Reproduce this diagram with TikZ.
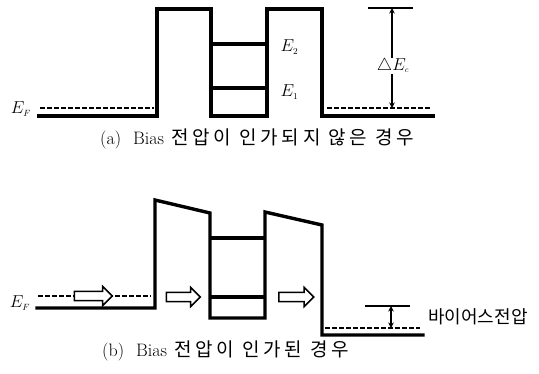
\documentclass[tikz,border=0pt]{standalone}
\usepackage{fontspec}
\newfontfamily\kr[LetterSpace=20]{Noto Sans CJK KR}
\newfontfamily\krn{Noto Sans CJK KR}
\usetikzlibrary{shapes.arrows,arrows.meta}
\tikzset{
  band/.style={line width=3.4pt,line join=miter,line cap=rect},
  level/.style={line width=3.2pt},
  fermi/.style={line width=1.5pt,dash pattern=on 4.5pt off 2.5pt},
  ticklinestyle/.style={line width=1.3pt},
  dim/.style={line width=1.6pt,{Stealth[length=5.5pt,width=5.5pt]}-{Stealth[length=5.5pt,width=5.5pt]}},
  hollow/.style={single arrow,draw,line width=1.5pt,fill=white,minimum height=36pt,inner xsep=0pt,inner ysep=3.8pt,single arrow head extend=5pt},
  lbl/.style={inner sep=0.5pt,font=\fontsize{18}{20}\selectfont},
  captext/.style={inner sep=0pt,anchor=west,font=\fontsize{18}{20}\selectfont},
  kcap/.style={font=\fontsize{19}{21}\kr}
}
\begin{document}
\begin{tikzpicture}[x=1pt,y=-1pt]
\useasboundingbox (0,0) rectangle (539,373);
% ---------------- (a) ----------------
\coordinate (aL0) at (39,116);
\coordinate (aL1) at (157,116);
\coordinate (aL2) at (157,9);
\coordinate (aL3) at (211,9);
\coordinate (aW0) at (211,116);
\coordinate (aW1) at (267,116);
\coordinate (aR0) at (267,9);
\coordinate (aR1) at (322,9);
\coordinate (aR2) at (322,116);
\coordinate (aR3) at (433,116);
\draw[band] (aL0) -- (aL1) -- (aL2) -- (aL3) -- (aW0) -- (aW1) -- (aR0) -- (aR1) -- (aR2) -- (aR3);
\draw[level] (211,44) -- (267,44);
\draw[level] (211,88) -- (267,88);
\draw[fermi] (40,108) -- (154,108);
\draw[fermi] (327,108) -- (432,108);
\coordinate (aT0) at (368,8);
\coordinate (aT1) at (413,8);
\draw[ticklinestyle] (aT0) -- (aT1);
\coordinate (aDtop) at (392,8);
\coordinate (aDbot) at (392,108);
\draw[dim] (aDtop) -- (aDbot);
\node[lbl,fill=white,font=\fontsize{17}{19}\selectfont] (dEc) at (393,66) {$\triangle E_{\scriptscriptstyle c}$};
\node[lbl] (aEF) at (21,109) {$E_{\scriptscriptstyle F}$};
\node[lbl,anchor=west] (aE2) at (280,47) {$E_{\scriptscriptstyle 2}$};
\node[lbl,anchor=west] (aE1) at (280,92) {$E_{\scriptscriptstyle 1}$};
\node[captext] (capa) at (100,139) {(a)\hspace{12pt}Bias\hspace{7pt}{\fontsize{19}{21}\kr 전압이 인가되지 않은 경우}};
% ---------------- (b) ----------------
\coordinate (bL0) at (37,308);
\coordinate (bL1) at (155,308);
\coordinate (bL2) at (155,200);
\coordinate (bL3) at (210,213);
\coordinate (bW0) at (210,318);
\coordinate (bW1) at (265,318);
\coordinate (bR0) at (265,212);
\coordinate (bR1) at (322,225);
\coordinate (bR2) at (322,335);
\coordinate (bR3) at (423,335);
\draw[band] (bL0) -- (bL1) -- (bL2) -- (bL3) -- (bW0) -- (bW1) -- (bR0) -- (bR1) -- (bR2) -- (bR3);
\draw[level] (210,238) -- (265,238);
\draw[level] (210,297) -- (265,297);
\draw[fermi] (38,296) -- (151,296);
\draw[fermi] (325,328) -- (420,328);
\node[hollow,minimum height=38pt] (ar1) at (91,296) {};
\node[hollow,minimum height=34pt] (ar2) at (181,297) {};
\node[hollow,minimum height=35pt] (ar3) at (294,297) {};
\coordinate (bT0) at (365,306);
\coordinate (bT1) at (410,306);
\draw[ticklinestyle] (bT0) -- (bT1);
\coordinate (bDtop) at (391,306);
\coordinate (bDbot) at (391,328);
\draw[dim] (bDtop) -- (bDbot);
\node[lbl] (bEF) at (20,303) {$E_{\scriptscriptstyle F}$};
\node[inner sep=0pt,anchor=west,font=\fontsize{18}{20}\krn] (bias) at (428,317) {바이어스전압};
\node[captext] (capb) at (102,351) {(b)\hspace{12pt}Bias\hspace{7pt}{\fontsize{19}{21}\kr 전압이 인가된 경우}};
\end{tikzpicture}
\end{document}
